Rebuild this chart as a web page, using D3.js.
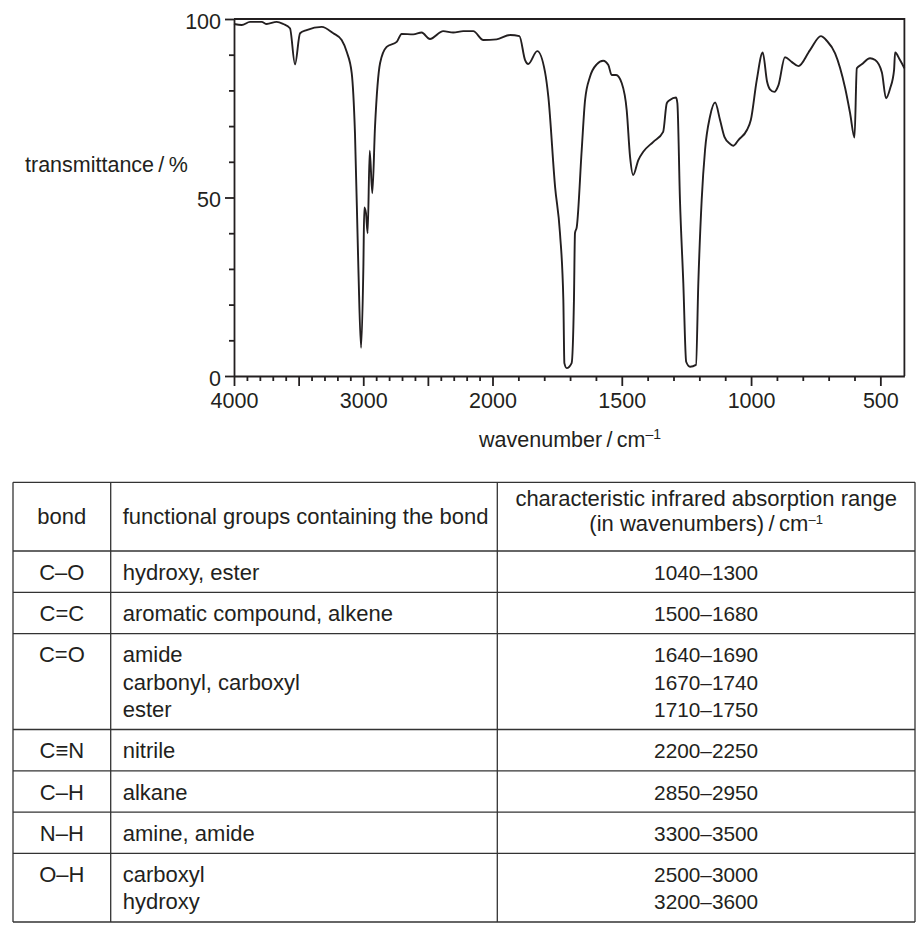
<!DOCTYPE html>
<html>
<head>
<meta charset="utf-8">
<script src="https://cdn.jsdelivr.net/npm/d3@7"></script>
<style>
    body { margin: 0; background: #fff; }
    svg { display: block; font-family: "Liberation Sans", Arial, Helvetica, sans-serif; }
    text { fill: #231f20; }
</style>
</head>
<body>
<svg id="chart" width="918" height="927"></svg>
<script>
// spectrum: wavenumber / cm-1 against transmittance / %
const wavenumbers = [4000, 3940, 3876, 3786, 3747, 3670, 3619, 3567, 3528, 3489, 3438, 3321, 3232, 3167,
    3128, 3089, 3064, 3038, 3017, 2999, 2992, 2979, 2966, 2950, 2930, 2909, 2870, 2819, 2741, 2703,
    2613, 2548, 2484, 2381, 2304, 2226, 2149, 2071, 1984, 1932, 1896, 1874, 1862, 1827, 1797, 1784,
    1758, 1739, 1726, 1722, 1713, 1694, 1685, 1681, 1674, 1655, 1642, 1623, 1597, 1572, 1552, 1539,
    1522, 1500, 1481, 1468, 1456, 1436, 1417, 1378, 1340, 1326, 1314, 1290, 1285, 1275, 1262, 1251,
    1236, 1213, 1204, 1191, 1178, 1159, 1139, 1120, 1103, 1081, 1068, 1049, 1016, 1001, 978, 955,
    938, 927, 910, 894, 869, 843, 817, 772, 730, 707, 675, 636, 617, 600, 591, 572, 540, 520, 494,
    478, 462, 447, 443, 424, 407];
const transmittance = [98.6, 98.3, 99.2, 99.2, 98.6, 99.2, 98.6, 97.4, 87.3, 96.0, 96.9, 97.8, 96.0, 94.1,
    90.8, 84.8, 68.0, 30.6, 7.9, 30.6, 47.2, 45.6, 40.0, 63.1, 51.2, 69.8, 87.6, 92.2, 93.6, 95.8,
    95.7, 96.2, 94.4, 96.6, 96.2, 96.6, 96.6, 94.1, 94.3, 95.5, 95.2, 88.5, 87.4, 91.0, 85.2, 78.2,
    53.0, 40.0, 21.3, 3.6, 2.2, 3.6, 21.3, 40.0, 41.8, 63.3, 77.3, 83.8, 87.3, 88.3, 87.1, 84.3,
    84.3, 82.0, 74.5, 61.4, 56.3, 60.5, 62.8, 65.6, 68.4, 76.4, 77.3, 78.0, 76.4, 49.3, 26.0, 4.0,
    2.6, 3.1, 26.0, 49.3, 63.3, 72.6, 76.6, 71.7, 67.0, 65.0, 64.5, 66.1, 68.9, 71.7, 82.9, 90.6,
    82.4, 80.3, 79.6, 81.5, 89.3, 88.0, 86.8, 91.3, 95.2, 93.9, 90.4, 80.6, 73.6, 66.8, 86.2, 87.3,
    89.0, 88.5, 85.0, 77.8, 80.6, 85.7, 90.6, 88.5, 86.2];

const xMajorTicks = [4000, 3500, 3000, 2500, 2000, 1500, 1000, 500];
const xLabelTicks = [4000, 3000, 2000, 1500, 1000, 500];
const yMajorTicks = [0, 50, 100];

// correlation table
const bonds = ['C–O', 'C=C', 'C=O', 'C≡N', 'C–H', 'N–H', 'O–H'];
const groups = [['hydroxy, ester'], ['aromatic compound, alkene'], ['amide', 'carbonyl, carboxyl', 'ester'],
    ['nitrile'], ['alkane'], ['amine, amide'], ['carboxyl', 'hydroxy']];
const ranges = [['1040–1300'], ['1500–1680'], ['1640–1690', '1670–1740', '1710–1750'],
    ['2200–2250'], ['2850–2950'], ['3300–3500'], ['2500–3000', '3200–3600']];

let svg = d3.select('#chart');
let ink = '#231f20';
let fontAxis = '21.5px';

// the wavenumber axis doubles its scale below 2000
let x = d3.scaleLinear()
    .domain([4000, 2000, 407])
    .range([234, 492.5, 904.4]);

let y = d3.scaleLinear()
    .domain([0, 100])
    .range([376, 19]);

let plot = svg.append('g');

// minor ticks first, then major ones with labels
let xMinor = d3.range(500, 4001, 100).filter((d) => xMajorTicks.indexOf(d) < 0);
plot.append('g')
    .attr('transform', 'translate(0,' + y(0) + ')')
    .call(d3.axisBottom(x).tickValues(xMinor).tickSize(5).tickFormat(''))
    .call((g) => g.select('.domain').remove());

let xAxis = plot.append('g')
    .attr('transform', 'translate(0,' + y(0) + ')')
    .call(d3.axisBottom(x)
        .tickValues(xMajorTicks)
        .tickSize(10)
        .tickSizeOuter(0)
        .tickFormat((d) => xLabelTicks.indexOf(d) >= 0 ? d : ''));
xAxis.selectAll('text')
    .attr('y', 32)
    .attr('dy', 0)
    .style('font-size', fontAxis)
    .style('fill', ink);

let yMinor = d3.range(0, 101, 10).filter((d) => yMajorTicks.indexOf(d) < 0);
plot.append('g')
    .attr('transform', 'translate(' + x(4000) + ',0)')
    .call(d3.axisLeft(y).tickValues(yMinor).tickSize(5).tickFormat(''))
    .call((g) => g.select('.domain').remove());

let yAxis = plot.append('g')
    .attr('transform', 'translate(' + x(4000) + ',0)')
    .call(d3.axisLeft(y).tickValues(yMajorTicks).tickSize(9).tickSizeOuter(0));
yAxis.selectAll('text')
    .attr('x', -13)
    .attr('dy', 9)
    .style('font-size', fontAxis)
    .style('fill', ink);

plot.selectAll('.domain, .tick line')
    .attr('stroke', ink)
    .attr('stroke-width', 1.8);
plot.selectAll('.tick text').attr('font-family', null);

// top and right edges of the frame
plot.append('path')
    .attr('d', 'M' + x(4000) + ',' + y(100) + 'H' + x(407) + 'V' + y(0))
    .attr('fill', 'none')
    .attr('stroke', ink)
    .attr('stroke-width', 1.8);

let spectrum = wavenumbers.map((w, i) => ({w: w, t: transmittance[i]}));
let line = d3.line()
    .x((d) => x(d.w))
    .y((d) => y(d.t))
    .curve(d3.curveMonotoneX);

plot.append('path')
    .datum(spectrum)
    .attr('d', line)
    .attr('fill', 'none')
    .attr('stroke', ink)
    .attr('stroke-width', 1.9)
    .attr('stroke-linejoin', 'round');

plot.append('text')
    .attr('x', 25)
    .attr('y', 172)
    .style('font-size', fontAxis)
    .text('transmittance\u2009/\u2009%');

let xTitle = plot.append('text')
    .attr('x', 570)
    .attr('y', 447)
    .attr('text-anchor', 'middle')
    .style('font-size', fontAxis)
    .text('wavenumber\u2009/\u2009cm');
xTitle.append('tspan')
    .attr('dy', -8)
    .style('font-size', '14px')
    .text('–1');

// table
let table = svg.append('g');
let colX = [13, 110.7, 497.3, 915];
let tableTop = 482.3;
let headH = 68.7;
let rowH = 41.3;
let lineH = 27.3;
let fontT = '22px';
let fontNum = '20.8px';

let rows = bonds.map((b, i) => ({bond: b, groups: groups[i], ranges: ranges[i]}));
let yPos = tableTop + headH;
rows.forEach((r) => {
    r.top = yPos;
    r.h = rowH + (r.groups.length - 1) * lineH;
    yPos += r.h;
});
let tableBottom = yPos;

let hLines = [tableTop].concat(rows.map((r) => r.top), [tableBottom]);
table.selectAll('line.h')
    .data(hLines)
    .enter().append('line')
    .attr('x1', colX[0])
    .attr('x2', colX[3])
    .attr('y1', (d) => d)
    .attr('y2', (d) => d);
table.selectAll('line.v')
    .data(colX)
    .enter().append('line')
    .attr('x1', (d) => d)
    .attr('x2', (d) => d)
    .attr('y1', tableTop)
    .attr('y2', tableBottom);
table.selectAll('line')
    .attr('stroke', '#333')
    .attr('stroke-width', 1.3);

// header cells
table.append('text')
    .attr('x', (colX[0] + colX[1]) / 2)
    .attr('y', tableTop + 41.7)
    .attr('text-anchor', 'middle')
    .style('font-size', fontT)
    .text('bond');
table.append('text')
    .attr('x', colX[1] + 12)
    .attr('y', tableTop + 41.7)
    .style('font-size', fontT)
    .text('functional groups containing the bond');
let midC = (colX[2] + colX[3]) / 2;
table.append('text')
    .attr('x', midC)
    .attr('y', tableTop + 23.7)
    .attr('text-anchor', 'middle')
    .style('font-size', fontT)
    .text('characteristic infrared absorption range');
let head2 = table.append('text')
    .attr('x', midC)
    .attr('y', tableTop + 48.2)
    .attr('text-anchor', 'middle')
    .style('font-size', fontT)
    .text('(in wavenumbers)\u2009/\u2009cm');
head2.append('tspan')
    .attr('dy', -7)
    .style('font-size', '13px')
    .text('–1');

// body cells
let rowG = table.selectAll('g.row')
    .data(rows)
    .enter().append('g')
    .attr('transform', (d) => 'translate(0,' + (d.top + 28.7) + ')');

rowG.append('text')
    .attr('x', (colX[0] + colX[1]) / 2)
    .attr('text-anchor', 'middle')
    .style('font-size', fontT)
    .text((d) => d.bond);

rowG.each(function(d) {
    let g = d3.select(this);
    d.groups.forEach((t, k) => {
        g.append('text')
            .attr('x', colX[1] + 12)
            .attr('y', k * lineH)
            .style('font-size', fontT)
            .text(t);
    });
    d.ranges.forEach((t, k) => {
        g.append('text')
            .attr('x', midC)
            .attr('y', k * lineH)
            .attr('text-anchor', 'middle')
            .style('font-size', fontNum)
            .text(t);
    });
});
</script>
</body>
</html>
